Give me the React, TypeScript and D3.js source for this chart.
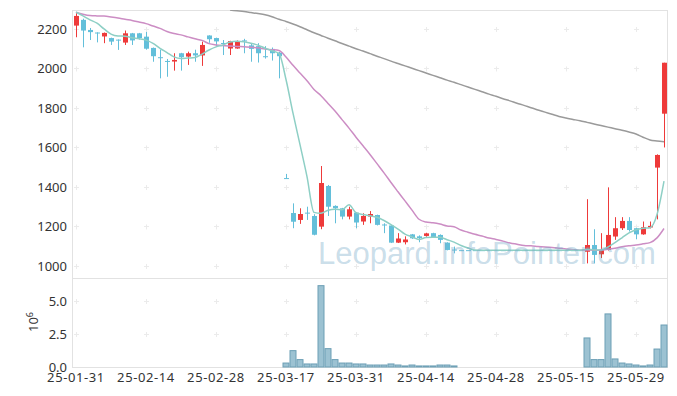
import * as d3 from "d3";

// trading days (category axis)
const dates = [
  "25-01-31",
  "25-02-03", "25-02-04", "25-02-05", "25-02-06", "25-02-07",
  "25-02-10", "25-02-11", "25-02-12", "25-02-13", "25-02-14",
  "25-02-17", "25-02-18", "25-02-19", "25-02-20", "25-02-21",
  "25-02-24", "25-02-25", "25-02-26", "25-02-27", "25-02-28",
  "25-03-04", "25-03-05", "25-03-06", "25-03-07",
  "25-03-10", "25-03-11", "25-03-12", "25-03-13", "25-03-14",
  "25-03-17", "25-03-18", "25-03-19", "25-03-20", "25-03-21",
  "25-03-24", "25-03-25", "25-03-26", "25-03-27", "25-03-28",
  "25-03-31", "25-04-01", "25-04-02", "25-04-03", "25-04-04",
  "25-04-07", "25-04-08", "25-04-09", "25-04-10", "25-04-11",
  "25-04-14", "25-04-15", "25-04-16", "25-04-17", "25-04-18",
  "25-04-21", "25-04-22", "25-04-23", "25-04-24", "25-04-25",
  "25-04-28", "25-04-29", "25-04-30", "25-05-02",
  "25-05-07", "25-05-08", "25-05-09",
  "25-05-12", "25-05-13", "25-05-14", "25-05-15", "25-05-16",
  "25-05-19", "25-05-20", "25-05-21", "25-05-22", "25-05-23",
  "25-05-26", "25-05-27", "25-05-28", "25-05-29", "25-05-30",
  "25-06-02", "25-06-04", "25-06-05",
];

const tickDates = [
  "25-01-31", "25-02-14", "25-02-28", "25-03-17", "25-03-31",
  "25-04-14", "25-04-28", "25-05-15", "25-05-29",
];

const opens = [
  2217, 2246, 2195, 2182, 2162, 2154, 2146, 2131, 2178, 2178,
  2161, 2104, 2057, 2038, 2035, 2077, 2060, 2077, 2066, 2167,
  2154, 2129, 2101, 2101, 2142, 2117, 2113, 2062, 2099, 2080,
  1445, 1268, 1233, 1270, 1253, 1199, 1405, 1304, 1292, 1250,
  1270, 1225, 1250, 1258, 1210, 1205, 1118, 1120, 1160, 1150,
  1152, 1166, 1157, 1118, 1083, 1080, 1080, 1080, 1080, 1080,
  1080, 1080, 1080, 1080, 1080, 1080, 1080, 1080, 1080, 1080,
  1080, 1080, 1080, 1072, 1106, 1059, 1081, 1149, 1191, 1228,
  1191, 1160, 1195, 1498, 1771,
];
const highs = [
  2280, 2252, 2205, 2183, 2182, 2156, 2147, 2192, 2180, 2180,
  2185, 2106, 2095, 2048, 2077, 2079, 2085, 2095, 2136, 2168,
  2156, 2144, 2140, 2142, 2150, 2126, 2128, 2113, 2106, 2083,
  1466, 1317, 1292, 1300, 1262, 1506, 1410, 1307, 1294, 1300,
  1272, 1267, 1278, 1260, 1216, 1206, 1166, 1150, 1162, 1155,
  1168, 1168, 1160, 1120, 1098, 1080, 1080, 1080, 1080, 1080,
  1080, 1080, 1080, 1080, 1080, 1080, 1080, 1080, 1080, 1080,
  1080, 1080, 1080, 1338, 1186, 1166, 1398, 1247, 1247, 1247,
  1193, 1225, 1225, 1565, 2029,
];
const lows = [
  2158, 2107, 2144, 2132, 2128, 2119, 2094, 2119, 2119, 2146,
  2095, 2034, 1950, 1958, 1989, 1989, 2018, 2034, 2013, 2130,
  2110, 2068, 2068, 2100, 2077, 2034, 2030, 2050, 2040, 1950,
  1443, 1191, 1213, 1233, 1155, 1186, 1253, 1216, 1236, 1236,
  1191, 1208, 1216, 1205, 1166, 1116, 1116, 1109, 1137, 1120,
  1148, 1142, 1115, 1079, 1064, 1080, 1080, 1080, 1080, 1080,
  1080, 1080, 1080, 1080, 1080, 1080, 1080, 1080, 1080, 1080,
  1080, 1080, 1080, 1013, 1013, 1040, 1078, 1132, 1182, 1174,
  1135, 1158, 1190, 1236, 1600,
];
const closes = [
  2266, 2192, 2184, 2179, 2180, 2136, 2143, 2178, 2142, 2154,
  2100, 2062, 2052, 2035, 2043, 2057, 2077, 2066, 2119, 2148,
  2137, 2126, 2139, 2139, 2137, 2099, 2077, 2060, 2077, 2062,
  1444, 1224, 1263, 1268, 1158, 1420, 1300, 1292, 1250, 1287,
  1220, 1253, 1263, 1208, 1206, 1118, 1139, 1134, 1140, 1141,
  1165, 1146, 1132, 1081, 1080, 1080, 1080, 1080, 1080, 1080,
  1080, 1080, 1080, 1080, 1080, 1080, 1080, 1080, 1080, 1080,
  1080, 1080, 1080, 1106, 1056, 1081, 1157, 1191, 1228, 1182,
  1160, 1196, 1203, 1562, 2029,
];
// volume in millions of shares
const volumes = [
  0, 0, 0, 0, 0, 0, 0, 0, 0, 0,
  0, 0, 0, 0, 0, 0, 0, 0, 0, 0,
  0, 0, 0, 0, 0, 0, 0, 0, 0, 0,
  0.3, 1.24, 0.56, 0.23, 0.23, 6.16, 1.39, 0.56, 0.3, 0.3,
  0.23, 0.23, 0.15, 0.15, 0.15, 0.23, 0.15, 0.08, 0.15, 0.08,
  0.08, 0.08, 0.15, 0.15, 0.08, 0, 0, 0, 0, 0,
  0, 0, 0, 0, 0, 0, 0, 0, 0, 0,
  0, 0, 0, 2.2, 0.56, 0.56, 4.02, 0.61, 0.3, 0.23,
  0.15, 0.08, 0.15, 1.36, 3.18,
];

// moving average values before enough closes exist
const ma5Head = [2285, 2266, 2246, 2229];
const ma20Head = [
  2285, 2275, 2268, 2266, 2265, 2261, 2256, 2249, 2243, 2235,
  2227, 2215, 2203, 2187, 2177, 2170, 2160, 2150, 2142,
];
// long moving average (grey), above the chart before 25-03-05
const maLong = [
  null, null, null, null, null, null, null, null, null, null,
  null, null, null, null, null, null, null, null, null, null,
  null, null, 2296, 2292, 2288, 2283, 2278, 2272, 2262, 2249,
  2238, 2225, 2211, 2196, 2181, 2167, 2153, 2140, 2126, 2113,
  2100, 2088, 2075, 2062, 2050, 2037, 2025, 2013, 2001, 1989,
  1977, 1965, 1953, 1941, 1930, 1918, 1906, 1894, 1882, 1870,
  1859, 1847, 1836, 1824, 1813, 1801, 1790, 1779, 1768, 1757,
  1749, 1742, 1735, 1727, 1719, 1711, 1703, 1695, 1687, 1678,
  1668, 1652, 1638, 1633, 1629,
];

const priceTicks = [1000, 1200, 1400, 1600, 1800, 2000, 2200];
const volTicks = [0, 2.5, 5];

const W = 677;
const H = 396;
const left = 72.5;
const right = 667.5;
const top = 10;
const mid = 278;
const bottom = 367;

const UP = "#ee3a3a";
const DOWN = "#63bfda";
const FRAME = "#e2e2e2";
const CROSS = "#ebebeb";
const TEXT = "#333";

const movingAvg = (n: number, head: number[]) =>
  closes.map((_, i) =>
    i >= n - 1 ? (d3.mean(closes.slice(i - n + 1, i + 1)) as number) : head[i]
  );

export default function App() {
  const x = d3.scaleBand<string>().domain(dates).range([left, right]).padding(0);
  const bw = x.bandwidth();
  const cx = (d: string) => (x(d) as number) + bw / 2;

  const y = d3.scaleLinear().domain([939, 2296]).range([mid, top]);
  const yv = d3.scaleLinear().domain([0, 6.74]).range([bottom, mid]);

  const ma5 = movingAvg(5, ma5Head);
  const ma20 = movingAvg(20, ma20Head);

  const line = d3
    .line<number | null>()
    .defined((d) => d != null)
    .x((_, i) => cx(dates[i]))
    .y((d) => y(d as number))
    .curve(d3.curveMonotoneX);

  const font = "'Noto Sans', 'DejaVu Sans', sans-serif";

  const crosses: { x: number; y: number }[] = [];
  tickDates.forEach((t) => {
    priceTicks.forEach((v) => crosses.push({ x: cx(t), y: y(v) }));
    volTicks.slice(1).forEach((v) => crosses.push({ x: cx(t), y: yv(v) }));
  });

  return (
    <svg
      width={W}
      height={H}
      style={{ position: "absolute", left: 0, top: 0, background: "#fff" }}
      fontFamily={font}
    >
      <defs>
        <clipPath id="main-clip">
          <rect x={left} y={top} width={right - left} height={mid - top} />
        </clipPath>
      </defs>

      {/* grid crosses */}
      <g stroke={CROSS} strokeWidth={1}>
        {crosses.map((c, i) => (
          <g key={i}>
            <line x1={c.x - 2} x2={c.x + 3} y1={Math.round(c.y) + 0.5} y2={Math.round(c.y) + 0.5} />
            <line x1={Math.round(c.x) + 0.5} x2={Math.round(c.x) + 0.5} y1={c.y - 2} y2={c.y + 3} />
          </g>
        ))}
      </g>

      {/* frames */}
      <g fill="none" stroke={FRAME} strokeWidth={1}>
        <rect x={left} y={top + 0.5} width={right - left} height={mid - top} />
        <rect x={left} y={mid + 0.5} width={right - left} height={bottom - mid} />
      </g>

      {/* price axis labels */}
      <g fontSize={13} fill={TEXT} textAnchor="end">
        {priceTicks.map((v) => (
          <text key={v} x={67} y={y(v)} dy="0.35em">
            {v}
          </text>
        ))}
      </g>
      <g fontSize={13} fill={TEXT} textAnchor="end">
        {volTicks.map((v) => (
          <text key={v} x={67} y={yv(v)} dy="0.35em">
            {v.toFixed(1)}
          </text>
        ))}
      </g>
      <text transform="translate(37.5,332) rotate(-90)" fontSize={13} fill={TEXT}>
        10
        <tspan fontSize={9} dy={-5}>
          6
        </tspan>
      </text>

      {/* date labels */}
      <g fontSize={13} fill={TEXT} textAnchor="middle" letterSpacing={0.6}>
        {tickDates.map((t) => (
          <text key={t} x={cx(t)} y={382}>
            {t}
          </text>
        ))}
      </g>

      {/* volume bars */}
      <g fill="#9cc2d2" stroke="#6c9fb5" strokeWidth={1}>
        {volumes.map((v, i) =>
          v > 0 ? (
            <rect
              key={i}
              x={(x(dates[i]) as number) + 0.5}
              y={yv(v)}
              width={bw - 1}
              height={yv(0) - yv(v)}
            />
          ) : null
        )}
      </g>

      {/* candles */}
      <g clipPath="url(#main-clip)">
        {dates.map((d, i) => {
          const o = opens[i];
          const c = closes[i];
          const color = c > o ? UP : DOWN;
          const px = Math.round(cx(d));
          const yTop = y(Math.max(o, c));
          const yBot = y(Math.min(o, c));
          return (
            <g key={d}>
              <line
                x1={px + 0.5}
                x2={px + 0.5}
                y1={y(highs[i])}
                y2={y(lows[i])}
                stroke={color}
                strokeWidth={1}
              />
              <rect
                x={px - 2}
                y={yTop}
                width={5}
                height={Math.max(1, yBot - yTop)}
                fill={color}
              />
            </g>
          );
        })}

        <path d={line(maLong) ?? ""} fill="none" stroke="#9a9a9a" strokeWidth={1.5} />
        <path d={line(ma20) ?? ""} fill="none" stroke="#cc8dc4" strokeWidth={1.5} />
        <path d={line(ma5) ?? ""} fill="none" stroke="#8ecfc5" strokeWidth={1.5} />
      </g>

      {/* watermark */}
      <text
        x={318}
        y={264}
        fontSize={31}
        fontFamily="'Liberation Sans', Arial, sans-serif"
        fill="rgba(120,170,200,0.4)"
      >
        Leopard.InfoPointer.com
      </text>
    </svg>
  );
}
